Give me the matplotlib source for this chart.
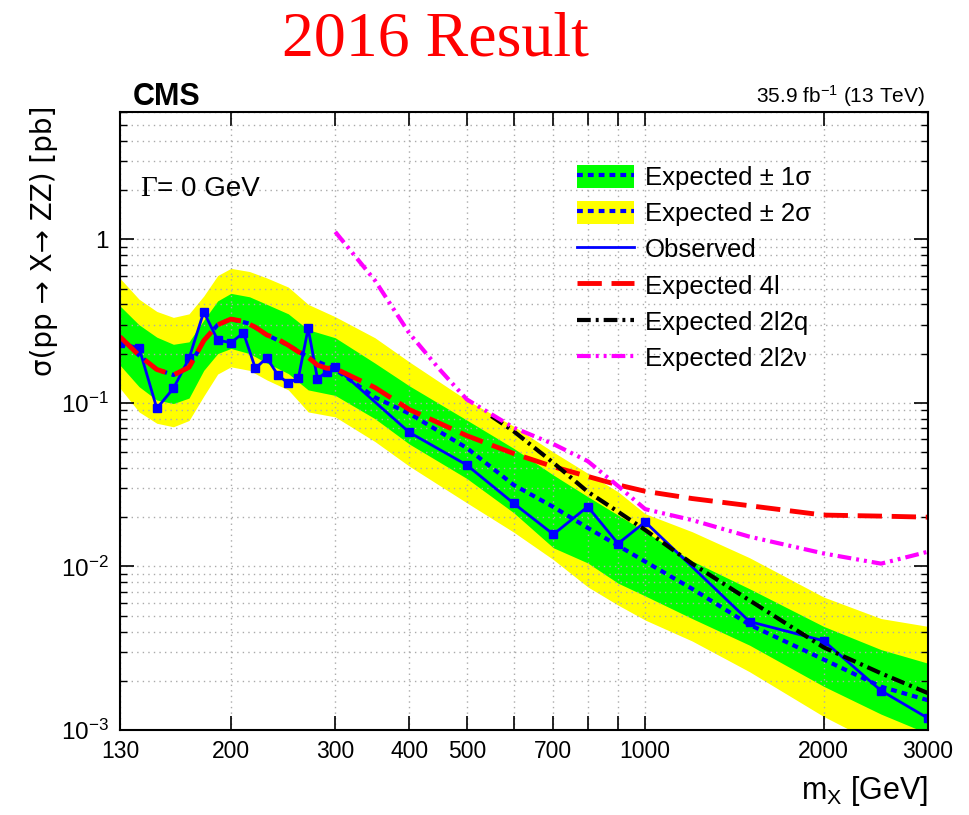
import matplotlib
matplotlib.use('Agg')
import matplotlib.pyplot as plt
from matplotlib.patches import Patch
from matplotlib.lines import Line2D
from matplotlib.ticker import FixedLocator, NullLocator, LogLocator, NullFormatter

plt.rcParams['font.family'] = ['Liberation Sans', 'DejaVu Sans']
plt.rcParams['mathtext.fontset'] = 'custom'
plt.rcParams['mathtext.rm'] = 'Liberation Sans'
plt.rcParams['mathtext.it'] = 'Liberation Sans:italic'
plt.rcParams['mathtext.bf'] = 'Liberation Sans:bold'

# expected limit bands (combined)
band_mass = [130, 140, 150, 160, 170, 180, 190, 200, 215, 230, 250, 270, 300, 350,
             400, 500, 600, 700, 800, 900, 1000, 1200, 1500, 2000, 2500, 3000]
exp_median = [0.2535, 0.195, 0.16, 0.148, 0.165, 0.24, 0.30, 0.325, 0.305, 0.26, 0.225, 0.19, 0.16, 0.108,
              0.086, 0.053, 0.0315, 0.0231, 0.0172, 0.0134, 0.0107, 0.0073, 0.0044, 0.0027, 0.00184, 0.00152]
exp_p1 = [0.391, 0.30, 0.252, 0.228, 0.236, 0.32, 0.42, 0.467, 0.445, 0.40, 0.35, 0.28, 0.25, 0.175,
          0.127, 0.0785, 0.0527, 0.0362, 0.0267, 0.0206, 0.0163, 0.0108, 0.0073, 0.0043, 0.0031, 0.00256]
exp_m1 = [0.170, 0.1255, 0.104, 0.099, 0.107, 0.158, 0.20, 0.215, 0.20, 0.175, 0.151, 0.12, 0.111, 0.08,
          0.056, 0.0345, 0.0213, 0.013, 0.0105, 0.0079, 0.0066, 0.0048, 0.0033, 0.00185, 0.00125, 0.00095]
exp_p2 = [0.577, 0.43, 0.362, 0.333, 0.35, 0.45, 0.60, 0.664, 0.635, 0.58, 0.51, 0.40, 0.336, 0.25,
          0.178, 0.104, 0.072, 0.05, 0.0371, 0.0286, 0.021, 0.0163, 0.0113, 0.0065, 0.0048, 0.0043]
exp_m2 = [0.123, 0.088, 0.075, 0.0714, 0.078, 0.11, 0.15, 0.166, 0.158, 0.138, 0.12, 0.088, 0.082, 0.058,
          0.041, 0.0245, 0.0162, 0.011, 0.0075, 0.0058, 0.0047, 0.0035, 0.00227, 0.00121, 0.0008, 0.0006]

# observed limit
obs_mass = [130, 140, 150, 160, 170, 180, 190, 200, 210, 220, 230, 240, 250, 260, 270, 280, 290, 300,
            400, 500, 600, 700, 800, 900, 1000, 1500, 2000, 2500, 3000]
obs = [0.233, 0.217, 0.0925, 0.1227, 0.187, 0.360, 0.242, 0.233, 0.268, 0.1625, 0.1887, 0.148, 0.1316,
       0.1423, 0.2853, 0.1398, 0.155, 0.166,
       0.066, 0.0417, 0.0243, 0.0157, 0.0232, 0.0138, 0.0187, 0.0046, 0.00351, 0.00174, 0.00118]

# expected limits per channel
m_4l = [130, 140, 150, 160, 170, 180, 190, 200, 210, 220, 230, 240, 250, 260, 270, 280, 290, 300,
        350, 400, 500, 600, 700, 800, 900, 1000, 1200, 1500, 2000, 2500, 3000]
exp_4l = [0.2535, 0.195, 0.16, 0.148, 0.165, 0.24, 0.30, 0.325, 0.315, 0.29, 0.26, 0.245, 0.225, 0.205,
          0.19, 0.17, 0.163, 0.162, 0.124, 0.091, 0.063, 0.049, 0.0407, 0.0355, 0.0315, 0.0288, 0.026,
          0.0235, 0.0206, 0.0203, 0.0200]
m_2l2q = [550, 600, 700, 800, 900, 1000, 1200, 1500, 2000, 2500, 3000]
exp_2l2q = [0.083, 0.067, 0.043, 0.0286, 0.0216, 0.0167, 0.0104, 0.0062, 0.0032, 0.00222, 0.00168]
m_2l2nu = [300, 350, 400, 450, 500, 600, 700, 800, 900, 1000, 1200, 1500, 2000, 2500, 3000]
exp_2l2nu = [1.11, 0.56, 0.266, 0.16, 0.105, 0.0705, 0.056, 0.044, 0.031, 0.0224, 0.0192, 0.0152,
             0.0120, 0.0104, 0.0123]

xticks = [130, 200, 300, 400, 500, 600, 700, 800, 900, 1000, 2000, 3000]
xticklabels = ['130', '200', '300', '400', '500', '', '700', '', '', '1000', '2000', '3000']

fig = plt.figure(figsize=(9.7, 8.15), dpi=100)
ax = fig.add_axes([0.1237, 0.1043, 0.8330, 0.7583])

green = '#00ff00'
yellow = '#ffff00'
blue = '#0000ff'

ax.fill_between(band_mass, exp_m2, exp_p2, color=yellow, lw=0, zorder=1)
ax.fill_between(band_mass, exp_m1, exp_p1, color=green, lw=0, zorder=1.1)

ax.plot(band_mass, exp_median, color=blue, lw=3, dashes=(1.4, 1.2), zorder=3)
ax.plot(obs_mass, obs, color=blue, lw=2, marker='s', ms=6, zorder=3.2)
ax.plot(m_4l, exp_4l, color='#ff0000', lw=3.5, dashes=(5, 2), zorder=3.4)
ax.plot(m_2l2q, exp_2l2q, color='black', lw=3, dashes=(3.3, 1.2, 0.7, 1.2), zorder=3.5)
ax.plot(m_2l2nu, exp_2l2nu, color='#ff00ff', lw=3, dashes=(3.3, 1.2, 0.7, 1.2, 0.7, 1.2), zorder=3.6)

ax.set_xscale('log')
ax.set_yscale('log')
ax.set_xlim(130, 3000)
ax.set_ylim(1e-3, 6)

ax.xaxis.set_major_locator(FixedLocator(xticks))
ax.xaxis.set_minor_locator(NullLocator())
ax.set_xticklabels(xticklabels)
ax.yaxis.set_major_locator(FixedLocator([1e-3, 1e-2, 1e-1, 1]))
ax.yaxis.set_minor_locator(LogLocator(base=10, subs=range(2, 10)))
ax.yaxis.set_minor_formatter(NullFormatter())
ax.set_yticklabels([r'$\mathdefault{10^{-3}}$', r'$\mathdefault{10^{-2}}$',
                    r'$\mathdefault{10^{-1}}$', '1'])

ax.tick_params(which='both', direction='in', top=True, right=True, labelsize=16.5)
ax.tick_params(which='major', length=10, width=1.2)
ax.tick_params(which='minor', length=5, width=1)
ax.tick_params(axis='x', pad=7)
ax.tick_params(axis='y', pad=8, labelsize=17.5)

ax.grid(which='major', axis='x', color='#aaaaaa', ls=(0, (1, 3)), lw=1)
ax.grid(which='both', axis='y', color='#aaaaaa', ls=(0, (1, 3)), lw=1)
ax.set_axisbelow(False)
for s in ax.spines.values():
    s.set_linewidth(1.5)
    s.set_zorder(5)

ax.set_ylabel('σ(pp → X→ ZZ) [pb]', fontsize=20, loc='top', family=['DejaVu Sans'])
ax.yaxis.set_label_coords(-0.077, 1.011)
ax.set_xlabel(r'm$_{\mathdefault{X}}$ [GeV]', fontsize=22, loc='right')
ax.xaxis.set_label_coords(1.0, -0.072)

# header texts
fig.text(0.449, 0.932, '2016 Result', color='#ff0000', fontsize=46,
         family=['Liberation Serif', 'DejaVu Serif'], ha='center', va='baseline')
fig.text(133 / 970, 1 - 105 / 815, 'CMS', fontsize=22, weight='bold', ha='left', va='baseline')
fig.text(925 / 970, 1 - 103 / 815, r'35.9 fb$^{\mathdefault{-1}}$ (13 TeV)', fontsize=15,
         ha='right', va='baseline')
fig.text(140 / 970, 1 - 196 / 815, 'Γ', fontsize=21, family=['Liberation Serif', 'DejaVu Serif'],
         ha='left', va='baseline')
fig.text(157 / 970, 1 - 196 / 815, '= 0 GeV', fontsize=20, ha='left', va='baseline')

handles = [
    (Patch(facecolor=green, edgecolor='none'), Line2D([], [], color=blue, lw=3, dashes=(1.4, 1.2))),
    (Patch(facecolor=yellow, edgecolor='none'), Line2D([], [], color=blue, lw=3, dashes=(1.4, 1.2))),
    Line2D([], [], color=blue, lw=2),
    Line2D([], [], color='#ff0000', lw=3.5, dashes=(5, 2)),
    Line2D([], [], color='black', lw=3, dashes=(3.3, 1.2, 0.7, 1.2)),
    Line2D([], [], color='#ff00ff', lw=3, dashes=(3.3, 1.2, 0.7, 1.2, 0.7, 1.2)),
]
labels = ['Expected ± 1σ', 'Expected ± 2σ', 'Observed', 'Expected 4l', 'Expected 2l2q', 'Expected 2l2ν']
fig.legend(handles, labels, loc='upper left', bbox_to_anchor=(577 / 970, 1 - 165 / 815),
           frameon=False, fontsize=18.5, handlelength=2.2, handleheight=1.0,
           handletextpad=0.45, labelspacing=0.42, borderpad=0, borderaxespad=0)

fig.savefig('out.png', dpi=100)
